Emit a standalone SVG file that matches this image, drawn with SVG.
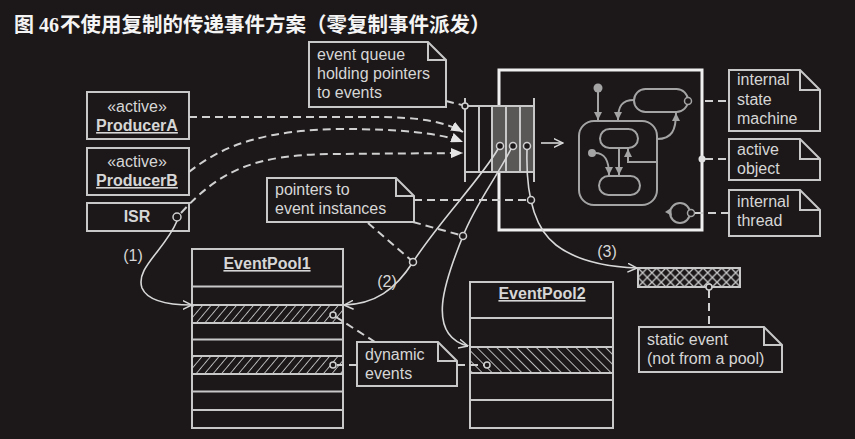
<svg xmlns="http://www.w3.org/2000/svg" width="855" height="439" viewBox="0 0 855 439">
<style>
.ln{fill:none;stroke:#c8c8c8;stroke-width:2}
.box{fill:#1c1819;stroke:#c8c8c8;stroke-width:2}
.note{fill:#1c1819;stroke:#c8c8c8;stroke-width:2;stroke-linejoin:miter}
.dash{fill:none;stroke:#d0d0d0;stroke-width:2;stroke-dasharray:8 5}
.cur{fill:none;stroke:#d8d8d8;stroke-width:1.6}
.t{font-family:"Liberation Sans",Arial,sans-serif;font-size:16px;fill:#d6d6d6}
.b{font-weight:bold;text-decoration:underline}
.sm{fill:none;stroke:#a4a4a4;stroke-width:2}
.pin{fill:#1c1819;stroke:#d0d0d0;stroke-width:1.5}
</style>
<defs>
<pattern id="hf" width="6.5" height="10" patternUnits="userSpaceOnUse" patternTransform="rotate(40)"><line x1="0" y1="0" x2="0" y2="10" stroke="#cccccc" stroke-width="1.7"/></pattern>
<pattern id="hb" width="7" height="10" patternUnits="userSpaceOnUse" patternTransform="rotate(-45)"><line x1="0" y1="0" x2="0" y2="10" stroke="#cccccc" stroke-width="1.8"/></pattern>
<pattern id="hx" x="638" y="268" width="9.3" height="9.5" patternUnits="userSpaceOnUse"><path d="M0,0 L9.3,9.5 M9.3,0 L0,9.5" stroke="#cccccc" stroke-width="1.3" fill="none"/></pattern>
<marker id="tri" viewBox="0 0 12 10" refX="12" refY="5" markerWidth="12" markerHeight="10" markerUnits="userSpaceOnUse" orient="auto"><path d="M0,0 L12,5 L0,10 z" fill="#e4e4e4"/></marker>
<marker id="open" viewBox="0 0 10 10" refX="9.5" refY="5" markerWidth="10" markerHeight="10" markerUnits="userSpaceOnUse" orient="auto"><path d="M0,0.5 L9.5,5 L0,9.5" fill="none" stroke="#d8d8d8" stroke-width="1.5"/></marker>
<marker id="smt" viewBox="0 0 8 8" refX="8" refY="4" markerWidth="8" markerHeight="8" markerUnits="userSpaceOnUse" orient="auto"><path d="M0,0 L8,4 L0,8 z" fill="#a4a4a4"/></marker>
</defs>
<rect x="0" y="0" width="855" height="439" fill="#1c1819"/>
<text x="14" y="32" font-family="'Noto Sans CJK SC',sans-serif" font-size="20" font-weight="bold" fill="#f4f4f4">图<tspan x="39" font-family="'Liberation Serif',serif">46</tspan><tspan x="60" font-size="20.5">不使用复制的传递事件方案（零复制事件派发）</tspan></text>

<g id="activeObject">
<rect x="499" y="70" width="203" height="160" fill="none" stroke="#f0f0f0" stroke-width="3"/>
<circle cx="702" cy="159" r="3.5" fill="#e0e0e0"/>
</g>

<g id="queue">
<rect x="465" y="106" width="27" height="66" fill="#1c1819"/>
<rect x="492" y="106" width="42" height="66" fill="#5a5757"/>
<path class="ln" d="M465,98 V182 M534,98 V182 M465,106 H534 M465,172 H534 M479,106 V172 M492,106 V172 M506,106 V172 M520,106 V172"/>
<circle class="pin" cx="500" cy="146" r="3.5"/>
<circle class="pin" cx="513" cy="146" r="3.5"/>
<circle class="pin" cx="527" cy="146" r="3.5"/>
</g>

<g id="stateMachine">
<circle cx="598" cy="88" r="4.5" fill="#a4a4a4"/>
<path class="sm" d="M598,92 V120" marker-end="url(#smt)"/>
<rect class="sm" x="579" y="121" width="78" height="84" rx="15"/>
<rect class="sm" x="634" y="89" width="54" height="23" rx="11.5"/>
<circle cx="688" cy="101" r="3.5" fill="#1c1819" stroke="#a4a4a4" stroke-width="1.5"/>
<path class="sm" d="M634,100 C622,100 618,106 618,120" marker-end="url(#smt)"/>
<path class="sm" d="M657,139 C672,139 676,130 676,113" marker-end="url(#smt)"/>
<rect class="sm" x="600" y="129" width="38" height="19" rx="9.5"/>
<rect class="sm" x="599" y="176" width="41" height="19" rx="9.5"/>
<circle cx="592" cy="153" r="4" fill="#a4a4a4"/>
<path class="sm" d="M595,153 C605,153 609,160 609,175" marker-end="url(#smt)"/>
<path class="sm" d="M619,148 V175" marker-end="url(#smt)"/>
<path class="sm" d="M657,162 H628 V149" marker-end="url(#smt)"/>
<circle class="sm" cx="680" cy="213" r="10"/>
<path d="M665,212 L671,208 L672,216 z" fill="#a4a4a4"/>
<circle cx="691" cy="213" r="3.5" fill="#1c1819" stroke="#a4a4a4" stroke-width="1.5"/>
</g>

<g id="producerA">
<rect class="box" x="87" y="92" width="102" height="47"/>
<text class="t" x="137" y="112" text-anchor="middle">«active»</text>
<text class="t b" x="137" y="131" text-anchor="middle">ProducerA</text>
</g>
<g id="producerB">
<rect class="box" x="87" y="148" width="102" height="47"/>
<text class="t" x="137" y="167" text-anchor="middle">«active»</text>
<text class="t b" x="137" y="186" text-anchor="middle">ProducerB</text>
</g>
<g id="isr">
<rect class="box" x="87" y="203" width="102" height="28"/>
<text class="t" x="137" y="222" text-anchor="middle" font-weight="bold">ISR</text>
<circle class="pin" cx="177" cy="217" r="4"/>
</g>

<g id="eventPool1">
<rect class="box" x="192" y="249" width="151" height="179"/>
<rect x="192" y="305" width="151" height="18" fill="url(#hf)"/>
<rect x="192" y="356" width="151" height="18" fill="url(#hf)"/>
<path class="ln" d="M192,286.5 H343 M192,305 H343 M192,323 H343 M192,339.5 H343 M192,356 H343 M192,374 H343 M192,391.5 H343 M192,410 H343"/>
<text class="t b" x="267" y="269" text-anchor="middle">EventPool1</text>
<circle class="pin" cx="333" cy="315" r="3"/>
<circle class="pin" cx="333" cy="365" r="3"/>
</g>

<g id="eventPool2">
<rect class="box" x="470" y="282" width="143" height="146"/>
<rect x="470" y="347" width="143" height="26" fill="url(#hb)"/>
<path class="ln" d="M470,318 H613 M470,347 H613 M470,373 H613 M470,400 H613"/>
<text class="t b" x="542" y="299" text-anchor="middle">EventPool2</text>
<circle class="pin" cx="487" cy="365" r="3"/>
</g>

<g id="staticEvent">
<rect x="638" y="268" width="102" height="19" fill="url(#hx)" stroke="#c8c8c8" stroke-width="2"/>
<circle class="pin" cx="709" cy="287" r="3"/>
</g>

<g id="noteQueue">
<path class="note" d="M309,42 H428 L446,60 V107 H309 Z M428,42 V60 H446"/>
<text class="t" x="317" y="60">event queue</text>
<text class="t" x="317" y="79">holding pointers</text>
<text class="t" x="317" y="98">to events</text>
</g>
<g id="notePointers">
<path class="note" d="M267,178 H396 L414,196 V222 H267 Z M396,178 V196 H414"/>
<text class="t" x="275" y="195">pointers to</text>
<text class="t" x="275" y="214">event instances</text>
</g>
<g id="noteSM">
<path class="note" d="M729,70 H800 L820,90 V131 H729 Z M800,70 V90 H820"/>
<text class="t" x="737" y="85">internal</text>
<text class="t" x="737" y="105">state</text>
<text class="t" x="737" y="124">machine</text>
</g>
<g id="noteAO">
<path class="note" d="M729,139 H800 L820,159 V180 H729 Z M800,139 V159 H820"/>
<text class="t" x="737" y="155">active</text>
<text class="t" x="737" y="174">object</text>
</g>
<g id="noteThread">
<path class="note" d="M729,190 H800 L820,210 V236 H729 Z M800,190 V210 H820"/>
<text class="t" x="737" y="207">internal</text>
<text class="t" x="737" y="226">thread</text>
</g>
<g id="noteStatic">
<path class="note" d="M639,327 H764 L782,345 V372 H639 Z M764,327 V345 H782"/>
<text class="t" x="647" y="345">static event</text>
<text class="t" x="647" y="364">(not from a pool)</text>
</g>
<g id="noteDynamic">
<path class="note" d="M357,342 H438 L457,361 V386 H357 Z M438,342 V361 H457"/>
<text class="t" x="365" y="360">dynamic</text>
<text class="t" x="365" y="379">events</text>
</g>

<g id="connectors">
<path class="dash" d="M189,117 L375,117 C420,117 445,122 463,132" marker-end="url(#tri)"/>
<path class="dash" d="M189,172 C225,143 270,130 340,129 C400,129 440,133 463,142" marker-end="url(#tri)"/>
<path class="dash" d="M181,213 C220,170 255,155 330,154 L463,153" marker-end="url(#tri)"/>
<path class="cur" d="M541,143 H563" marker-end="url(#open)"/>
<path class="dash" d="M446,101 L462,105"/>
<circle class="pin" cx="465" cy="106" r="3"/>
<path class="cur" d="M498,149 C480,180 440,220 413,262 C395,290 375,304 344,305" marker-end="url(#open)"/>
<path class="cur" d="M511,149 C495,180 475,205 463,236 C445,280 425,335 468,346" marker-end="url(#open)"/>
<path class="cur" d="M527,150 C526,185 530,225 556,245 C578,262 610,267 637,268" marker-end="url(#open)"/>
<path class="cur" d="M177,221 C165,250 135,268 142,288 C148,302 170,305 192,305" marker-end="url(#open)"/>
<path class="dash" d="M414,200 H527"/>
<circle class="pin" cx="531" cy="200" r="3.5"/>
<path class="dash" d="M413,222 L460,235"/>
<circle class="pin" cx="463" cy="236" r="3.5"/>
<path class="dash" d="M368,223 L411,260"/>
<circle class="pin" cx="413" cy="262" r="3.5"/>
<path class="dash" d="M705,101 H729 M705,159 H729 M695,213 H729"/>
<path class="dash" d="M709,290 V327"/>
<path class="dash" d="M375,342 L336,317"/>
<path class="dash" d="M357,365 H337"/>
<path class="dash" d="M457,365 H484"/>
<text class="t" x="133" y="261" text-anchor="middle">(1)</text>
<text class="t" x="387" y="287" text-anchor="middle">(2)</text>
<text class="t" x="607" y="257" text-anchor="middle">(3)</text>
</g>
</svg>
